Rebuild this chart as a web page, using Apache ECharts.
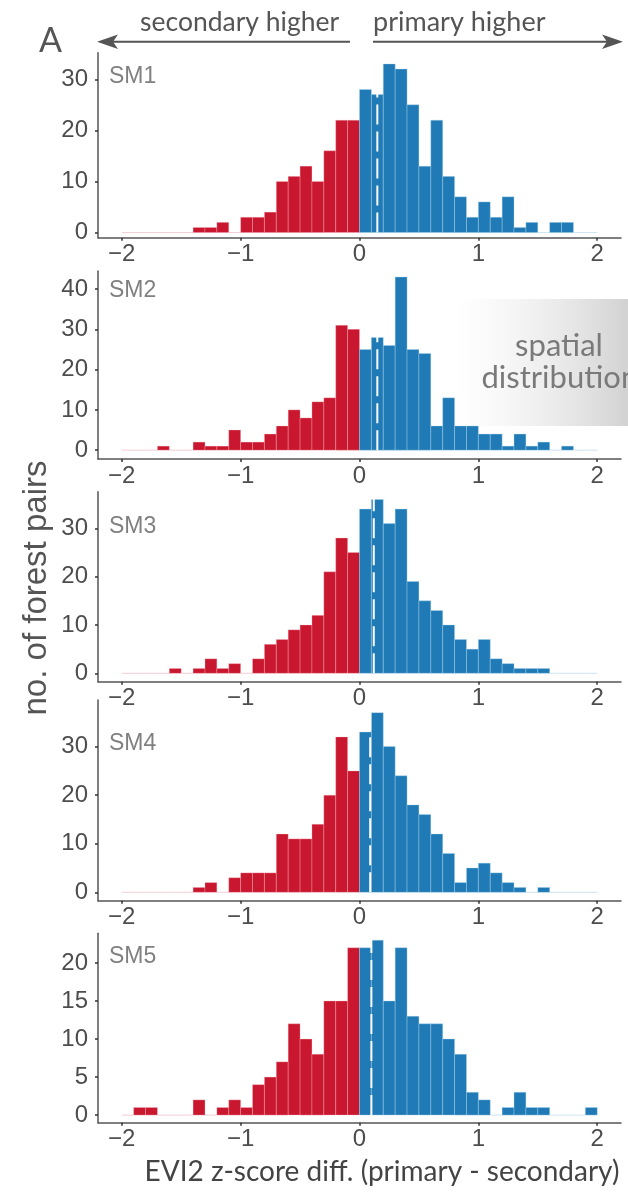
<!DOCTYPE html>
<html>
<head>
<meta charset="utf-8">
<title>EVI2 z-score diff histograms</title>
<script src="https://cdn.jsdelivr.net/npm/echarts@6/dist/echarts.min.js"></script>
<style>
  html, body { margin: 0; padding: 0; background: #fff; }
  #chart { width: 628px; height: 1192px; }
</style>
</head>
<body>
<div id="chart"></div>
<script>
// histogram bins: 0.1 wide, from -2 to 2
const binWidth = 0.1
const binLefts = Array.from({ length: 40 }, (_, i) => Math.round((-2 + i * binWidth) * 10) / 10)

const panelNames = ['SM1', 'SM2', 'SM3', 'SM4', 'SM5']
// counts per bin (left half: -2.0 .. -0.1, right half: 0.0 .. 1.9)
const sm1Counts = [0, 0, 0, 0, 0, 0, 1, 1, 2, 0, 3, 3, 4, 10, 11, 13, 10, 16, 22, 22,
  28, 27, 33, 32, 25, 13, 22, 11, 7, 3, 6, 3, 7, 1, 2, 0, 2, 2, 0, 0]
const sm2Counts = [0, 0, 0, 1, 0, 0, 2, 1, 1, 5, 2, 2, 4, 6, 10, 8, 12, 13, 31, 30,
  25, 28, 26, 43, 25, 24, 6, 13, 6, 6, 4, 4, 1, 4, 1, 2, 0, 1, 0, 0]
const sm3Counts = [0, 0, 0, 0, 1, 0, 1, 3, 1, 2, 0, 3, 6, 7, 9, 10, 12, 21, 28, 25,
  34, 36, 31, 34, 19, 15, 13, 10, 7, 5, 7, 3, 2, 1, 1, 1, 0, 0, 0, 0]
const sm4Counts = [0, 0, 0, 0, 0, 0, 1, 2, 0, 3, 4, 4, 4, 12, 11, 11, 14, 20, 32, 25,
  33, 37, 30, 24, 18, 16, 12, 8, 2, 5, 6, 4, 2, 1, 0, 1, 0, 0, 0, 0]
const sm5Counts = [0, 1, 1, 0, 0, 0, 2, 0, 1, 2, 1, 4, 5, 7, 12, 10, 8, 15, 15, 22,
  22, 23, 15, 22, 13, 12, 12, 10, 8, 3, 2, 0, 1, 3, 1, 1, 0, 0, 0, 1]
const allCounts = [sm1Counts, sm2Counts, sm3Counts, sm4Counts, sm5Counts]

// median difference (dashed white line)
const medians = [0.15, 0.15, 0.12, 0.09, 0.10]

const xTicks = [-2, -1, 0, 1, 2]
const yTicks = [[0, 10, 20, 30], [0, 10, 20, 30, 40], [0, 10, 20, 30], [0, 10, 20, 30], [0, 5, 10, 15, 20]]
const yMins = [-1, -2.2, -1.74, -1.73, -1.0]
const yMaxs = [35.2, 44.5, 37.6, 39.6, 23.9]

// layout (px)
const panelTops = [52.7, 271, 491.7, 700, 933.3]
const panelHeights = [185, 188, 190, 200.7, 189.4]
const labelY = [76.6, 291, 527, 744, 957]

const RED = '#C9172F'
const BLUE = '#1F7AB5'
const AXIS = '#555555'
const TICKTXT = '#4d4d4d'

function renderBin (params, api) {
  const x0 = api.value(0)
  const x1 = api.value(1)
  const n = api.value(2)
  const p0 = api.coord([x0, 0])
  const p1 = api.coord([x1, n])
  const neg = x1 <= 0
  if (n === 0) {
    return {
      type: 'line',
      shape: { x1: p0[0], y1: p0[1], x2: p1[0], y2: p0[1] },
      style: { stroke: neg ? '#f3cdd4' : '#cfe3f1', lineWidth: 1 }
    }
  }
  return {
    type: 'rect',
    shape: { x: p0[0], y: p1[1], width: p1[0] - p0[0], height: p0[1] - p1[1] },
    style: {
      fill: neg ? RED : BLUE,
      stroke: neg ? 'rgba(250,190,200,0.45)' : 'rgba(170,215,240,0.55)',
      lineWidth: 0.7
    }
  }
}

const grids = []
const xAxes = []
const yAxes = []
const series = []
const graphics = []

panelNames.forEach((name, i) => {
  grids.push({ left: 98, width: 523, top: panelTops[i], height: panelHeights[i] })
  xAxes.push({
    gridIndex: i,
    type: 'value',
    min: -2.2,
    max: 2.2,
    splitLine: { show: false },
    axisLine: { show: true, onZero: false, lineStyle: { color: AXIS, width: 1.5 } },
    axisTick: { show: true, customValues: xTicks, length: 3, lineStyle: { color: '#333', width: 1.5 } },
    axisLabel: {
      customValues: xTicks,
      margin: 5,
      color: TICKTXT,
      fontSize: 24,
      fontFamily: 'Liberation Sans',
      formatter: v => (v < 0 ? '\u2212' + Math.abs(v) : String(v))
    }
  })
  yAxes.push({
    gridIndex: i,
    type: 'value',
    min: yMins[i],
    max: yMaxs[i],
    splitLine: { show: false },
    axisLine: { show: true, onZero: false, lineStyle: { color: AXIS, width: 1.5 } },
    axisTick: { show: true, customValues: yTicks[i], length: 3, lineStyle: { color: '#333', width: 1.5 } },
    axisLabel: {
      customValues: yTicks[i],
      margin: 10,
      color: TICKTXT,
      fontSize: 24,
      fontFamily: 'Liberation Sans'
    }
  })
  series.push({
    type: 'custom',
    xAxisIndex: i,
    yAxisIndex: i,
    renderItem: renderBin,
    data: binLefts.map((x, k) => [x, Math.round((x + binWidth) * 10) / 10, allCounts[i][k]]),
    encode: { x: [0, 1], y: 2 },
    silent: true
  })
  series.push({
    type: 'line',
    xAxisIndex: i,
    yAxisIndex: i,
    data: [[medians[i], 0], [medians[i], yMaxs[i]]],
    symbol: 'none',
    silent: true,
    z: 5,
    lineStyle: { color: '#ffffff', width: 2, type: [20, 7] }
  })
  graphics.push({
    type: 'text',
    x: 109,
    y: labelY[i],
    style: {
      text: name, fill: '#808080', font: '23px "Liberation Sans"',
      textVerticalAlign: 'middle', verticalAlign: 'middle'
    }
  })
})

// header arrows
graphics.push(
  { type: 'text', x: 39, y: 41.5, style: { text: 'A', fill: '#555', font: '34px Lato', textVerticalAlign: 'middle', verticalAlign: 'middle' } },
  { type: 'text', x: 140, y: 22, style: { text: 'secondary higher', fill: '#555', font: '26.5px Lato', textVerticalAlign: 'middle', verticalAlign: 'middle' } },
  { type: 'text', x: 373, y: 22, style: { text: 'primary higher', fill: '#555', font: '27px Lato', textVerticalAlign: 'middle', verticalAlign: 'middle' } },
  { type: 'line', shape: { x1: 110, y1: 41.7, x2: 350, y2: 41.7 }, style: { stroke: '#555', lineWidth: 2 } },
  { type: 'polygon', shape: { points: [[97, 41.7], [118, 34.5], [113, 41.7], [118, 48.9]] }, style: { fill: '#555' } },
  { type: 'line', shape: { x1: 373, y1: 41.7, x2: 610, y2: 41.7 }, style: { stroke: '#555', lineWidth: 2 } },
  { type: 'polygon', shape: { points: [[623, 41.7], [602, 34.5], [607, 41.7], [602, 48.9]] }, style: { fill: '#555' } }
)

// "spatial distribution" shaded box in SM2
graphics.push(
  {
    type: 'rect',
    shape: { x: 454, y: 299, width: 174, height: 127 },
    style: {
      fill: new echarts.graphic.LinearGradient(0, 0, 1, 0, [
        { offset: 0, color: 'rgba(235,235,235,0)' },
        { offset: 1, color: '#d2d2d2' }
      ])
    }
  },
  { type: 'text', x: 559, y: 345.5, style: { text: 'spatial', fill: '#7a7a7a', font: '31px Lato', textAlign: 'center', align: 'center', textVerticalAlign: 'middle', verticalAlign: 'middle' } },
  { type: 'text', x: 481.5, y: 378, style: { text: 'distribution', fill: '#7a7a7a', font: '31px Lato', textVerticalAlign: 'middle', verticalAlign: 'middle' } }
)

// axis titles
graphics.push(
  { type: 'text', x: 37, y: 588, rotation: Math.PI / 2, style: { text: 'no. of forest pairs', fill: '#555', font: '33px "Liberation Sans"', textAlign: 'center', align: 'center', textVerticalAlign: 'middle', verticalAlign: 'middle' } },
  { type: 'text', x: 382, y: 1172, style: { text: 'EVI2 z-score diff. (primary - secondary)', fill: '#444', font: '28px Lato', textAlign: 'center', align: 'center', textVerticalAlign: 'middle', verticalAlign: 'middle' } }
)

const chart = echarts.init(document.getElementById('chart'))
chart.setOption({
  animation: false,
  backgroundColor: '#fff',
  grid: grids,
  xAxis: xAxes,
  yAxis: yAxes,
  series: series,
  graphic: graphics
})
</script>
</body>
</html>
